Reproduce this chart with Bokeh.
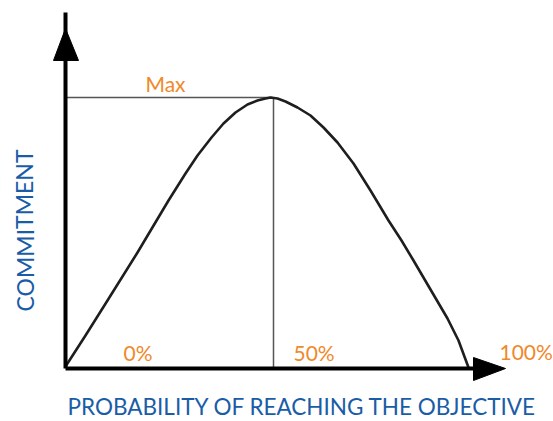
from bokeh.plotting import figure
from bokeh.models import ColumnDataSource
from bokeh.core.properties import value
from bokeh.embed import file_html
from bokeh.resources import INLINE

# Sketched curve: probability (x) vs commitment (y), in drawing units
curve_x = [0, 20, 42, 72, 103, 120, 132, 146, 158, 170, 182, 192, 200, 205, 212, 220, 232, 245, 258, 272, 288, 305, 323, 336, 348, 365, 382, 393, 403]
curve_y = [2, 33, 68, 116, 168, 195, 213, 231, 245, 256, 264, 268, 270, 271, 270, 267, 261, 253, 241, 226, 205, 178, 148, 128, 108, 79, 50, 28, 1]

peak_x = 207
peak_y = 271
y_axis_top = 356
x_axis_end = 440

pct_labels = ["0%", "50%", "100%"]
pct_label_x = [58, 228, 434]
pct_label_y = [16, 16, 17]

x_title = "PROBABILITY OF REACHING THE OBJECTIVE"
y_title = "COMMITMENT"
max_label = "Max"

ORANGE = "#f0892a"
BLUE = "#1a5ca6"

p = figure(width=553, height=421, x_range=(-65, 488), y_range=(-53, 368),
           output_backend="svg", toolbar_location=None, min_border=0)
p.axis.visible = False
p.grid.visible = False
p.outline_line_color = None
p.background_fill_color = "white"

# Max guide lines
p.line([0, peak_x], [peak_y, peak_y], line_color="#555555", line_width=1.5)
p.line([peak_x + 1, peak_x + 1], [0, peak_y], line_color="#555555", line_width=1.5)

# Curve
p.line(curve_x, curve_y, line_color="#1e1e1e", line_width=2.6, line_join="round", line_cap="round")

# Axes with arrows
p.line([0, 0], [0, y_axis_top], line_color="black", line_width=4)
p.line([0, x_axis_end - 25], [0, 0], line_color="black", line_width=4)
p.patch([-12, 13, 0], [308, 308, 340], fill_color="black", line_color="black", line_width=1)
p.patch([408, 408, x_axis_end], [11, -12, 0], fill_color="black", line_color="black", line_width=1)

# Labels
src = ColumnDataSource(dict(x=pct_label_x, y=pct_label_y, t=pct_labels))
p.text(x="x", y="y", text="t", source=src, text_color=ORANGE,
       text_font=value("Lato"), text_font_size="21px", text_baseline="alphabetic")
p.text(x=[80], y=[285], text=[max_label], text_color=ORANGE,
       text_font=value("Lato"), text_font_size="21px", text_baseline="alphabetic")
p.text(x=[2], y=[-38], text=[x_title], text_color=BLUE,
       text_font=value("Lato"), text_font_size="22.5px", text_baseline="alphabetic")
p.text(x=[-41], y=[138], text=[y_title], text_color=BLUE, angle=1.5708,
       text_font=value("Lato"), text_font_size="23px", text_align="center",
       text_baseline="middle")

open("out.html", "w").write(file_html(p, INLINE))
